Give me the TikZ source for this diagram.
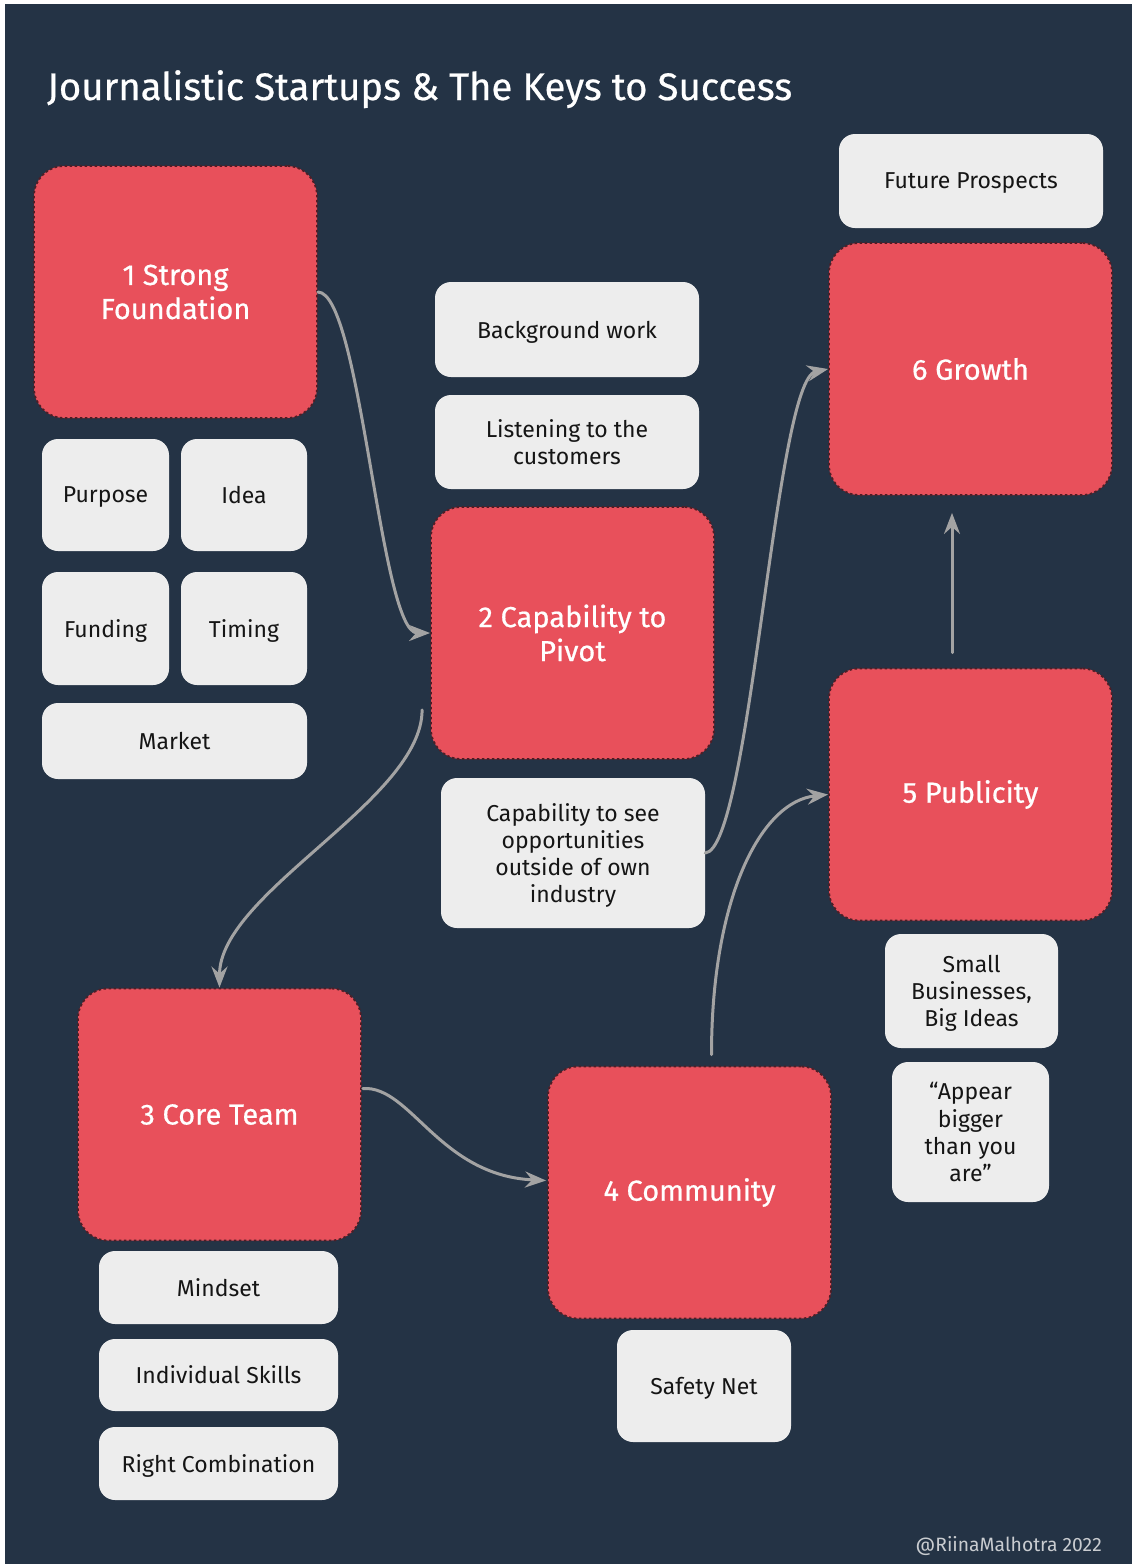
\documentclass[tikz,border=0pt]{standalone}
\usepackage{fontspec}
\setmainfont{Fira Sans}
\newfontfamily\medfont{Fira Sans}[FakeBold=0.6]
\usetikzlibrary{arrows.meta,calc}
\definecolor{navy}{HTML}{243345}
\definecolor{redbox}{HTML}{E8505B}
\definecolor{redline}{HTML}{4E1E26}
\definecolor{lightbox}{HTML}{EDEDED}
\definecolor{arrowgray}{HTML}{A3A3A3}
\definecolor{footgray}{HTML}{C9CCD0}
\definecolor{boxtext}{HTML}{151515}
\begin{document}
\begin{tikzpicture}[x=1pt,y=-1pt,
  keybox/.style={fill=redbox, draw=redline, dash pattern=on 2.5pt off 2.5pt, line width=1.8pt,
    rounded corners=30pt, text=white, font=\medfont\fontsize{29}{34}\selectfont,
    align=center, inner sep=0pt, minimum width=283pt, minimum height=252pt},
  subbox/.style={fill=lightbox, rounded corners=16pt, text=boxtext,
    font=\fontsize{23}{27.3}\selectfont, align=center, inner sep=0pt, text depth=0pt},
  flow/.style={draw=arrowgray, line width=3pt, line cap=round,
    -{Stealth[length=21pt,width=16pt,inset=7pt]}}]
\useasboundingbox (0,0) rectangle (1132,1564);
\fill[white] (0,0) rectangle (1132,1564);
\fill[navy] (5,4) rectangle (1132,1564);

\node[anchor=base west, inner sep=0pt, text=white, font=\medfont\fontsize{38.3}{40}\selectfont] (title) at (47,100)
  {Journalistic Startups \& The Keys to Success};

% key boxes
\node[keybox] (k1) at (175.5,292) {1 Strong\\Foundation};
\node[keybox] (k2) at (572.5,633) {2 Capability to\\Pivot};
\node[keybox] (k3) at (219.5,1114.5) {3 Core Team};
\node[keybox] (k4) at (689.5,1192.5) {4 Community};
\node[keybox] (k5) at (970.5,794.5) {5 Publicity};
\node[keybox] (k6) at (970.5,369) {6 Growth};

% sub boxes
\node[subbox, minimum width=264pt, minimum height=94pt] (fp) at (971,181) {Future Prospects};
\node[subbox, minimum width=264pt, minimum height=95pt] (bg) at (567,329.5) {Background work};
\node[subbox, minimum width=264pt, minimum height=94pt] (lis) at (567,442) {Listening to the\\customers};
\node[subbox, minimum width=127pt, minimum height=112pt] (pur) at (105.5,495) {Purpose};
\node[subbox, minimum width=126pt, minimum height=112pt] (idea) at (244,495) {Idea};
\node[subbox, minimum width=127pt, minimum height=113pt] (fund) at (105.5,628.5) {Funding};
\node[subbox, minimum width=126pt, minimum height=113pt] (tim) at (244,628.5) {Timing};
\node[subbox, minimum width=265pt, minimum height=76pt] (mkt) at (174.5,741) {Market};
\node[subbox, minimum width=264pt, minimum height=150pt] (cap) at (573,853)
  {Capability to see\\opportunities\\outside of own\\industry};
\node[subbox, minimum width=173pt, minimum height=114pt] (sb) at (971.5,991)
  {Small\\Businesses,\\Big Ideas};
\node[subbox, minimum width=157pt, minimum height=140pt] (app) at (970.5,1132)
  {“Appear\\bigger\\than you\\are”};
\node[subbox, minimum width=239pt, minimum height=73pt] (mind) at (218.5,1287.5) {Mindset};
\node[subbox, minimum width=239pt, minimum height=72pt] (ind) at (218.5,1375) {Individual Skills};
\node[subbox, minimum width=239pt, minimum height=73pt] (rc) at (218.5,1463.5) {Right Combination};
\node[subbox, minimum width=174pt, minimum height=112pt] (safe) at (704,1386) {Safety Net};

\node[anchor=base east, inner sep=0pt, text=footgray, font=\fontsize{19.3}{22}\selectfont] (foot) at (1102,1551)
  {@RiinaMalhotra 2022};

% connectors
\coordinate (s23) at ($(k2.south west)+(-8,-50)$);
\coordinate (s34) at ($(k3.east)+(1,-26)$);
\coordinate (e34) at ($(k4.west)+(-1,-12)$);
\coordinate (s45) at ($(k4.north)+(22,-11)$);
\coordinate (s56) at ($(k5.north)+(-18.5,-15)$);
\coordinate (e56) at ($(k6.south)+(-18.5,17)$);

\draw[flow] (k1.east) .. controls +(43,0) and +(-50,0) .. (k2.west);
\draw[flow] (s23) .. controls +(0,90) and +(0,-95) .. (k3.north);
\draw[flow] (s34) .. controls +(48,-3) and +(-107,-5) .. (e34);
\draw[flow] (s45) .. controls +(0,-155) and +(-68,7) .. (k5.west);
\draw[flow] (s56) -- (e56);
\draw[flow] (cap.east) .. controls +(45,-3) and +(-53,11) .. (k6.west);
\end{tikzpicture}
\end{document}
